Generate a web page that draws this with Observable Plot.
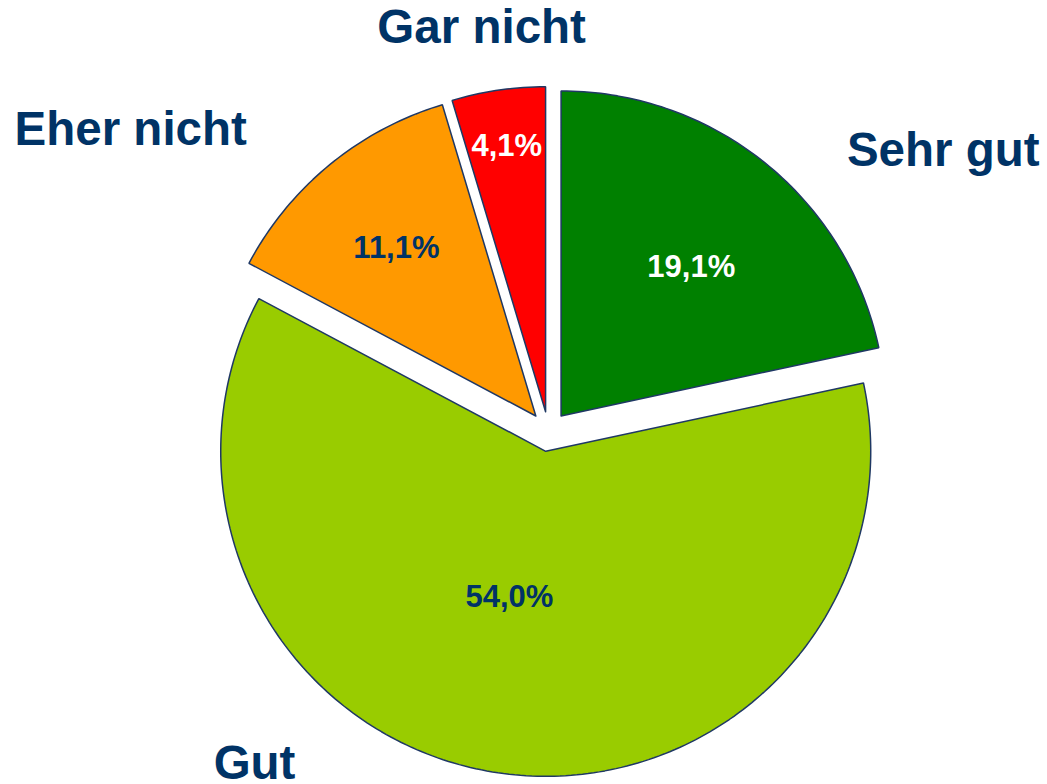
<!DOCTYPE html>
<html><head><meta charset="utf-8">
<script src="https://cdn.jsdelivr.net/npm/d3@7"></script>
<script src="https://cdn.jsdelivr.net/npm/@observablehq/plot@0.6"></script>
<style>body{margin:0;background:#fff}</style>
</head><body><div id="chart"></div>
<script>
// ---- data ----
const categories = ["Sehr gut", "Gut", "Eher nicht", "Gar nicht"];
const values = [19.1, 54.0, 11.1, 4.1];
const valueLabels = ["19,1%", "54,0%", "11,1%", "4,1%"];
const sliceColors = ["#008000", "#99CC00", "#FF9900", "#FF0000"];

// ---- layout (chart units: pie radius = 1; polar = [degrees clockwise from top, radius]) ----
const W = 1047, H = 784, R = 325;
const explode = 20 / R;
const innerLabelPolar = [[40.9, 0.671], [193.3, 0.522], [320.4, 0.734], [351.7, 0.889]];
const outerLabelPolar = [[54.6, 1.49], [221.5, 1.365], [305.8, 1.585], [350.6, 1.26]];
const navy = "#003366";

const total = d3.sum(values);
const rad = Math.PI / 180;
const points = [];
const slices = [];
let acc = 0;
categories.forEach((cat, i) => {
  const a0 = acc / total * 2 * Math.PI;
  acc += values[i];
  const a1 = acc / total * 2 * Math.PI;
  const mid = (a0 + a1) / 2;
  const vx = explode * Math.sin(mid), vy = explode * Math.cos(mid);
  points.push({cat, x: vx, y: vy});
  const n = Math.max(2, Math.ceil((a1 - a0) / rad));
  for (let k = 0; k <= n; k++) {
    const t = a0 + (a1 - a0) * k / n;
    points.push({cat, x: vx + Math.sin(t), y: vy + Math.cos(t)});
  }
  points.push({cat, x: vx, y: vy});
  const [ia, ir] = innerLabelPolar[i];
  const [oa, or] = outerLabelPolar[i];
  slices.push({
    cat, label: valueLabels[i],
    ix: ir * Math.sin(ia * rad), iy: ir * Math.cos(ia * rad),
    ox: or * Math.sin(oa * rad), oy: or * Math.cos(oa * rad),
    white: i === 0 || i === 3
  });
});

const chart = Plot.plot({
  width: W, height: H,
  margin: 0,
  x: {domain: [-548 / R, 499 / R], axis: null},
  y: {domain: [-353 / R, 431 / R], axis: null},
  color: {domain: categories, range: sliceColors},
  style: {fontFamily: "'Liberation Sans', Arial, sans-serif", background: "white"},
  marks: [
    Plot.line(points, {x: "x", y: "y", z: "cat", fill: "cat", stroke: "#1F3864", strokeWidth: 1.5, strokeLinejoin: "miter", curve: "linear"}),
    Plot.text(slices.filter(d => d.white), {x: "ix", y: "iy", text: "label", fill: "white", fontSize: 31, fontWeight: "bold"}),
    Plot.text(slices.filter(d => !d.white), {x: "ix", y: "iy", text: "label", fill: navy, fontSize: 31, fontWeight: "bold"}),
    Plot.text(slices, {x: "ox", y: "oy", text: "cat", fill: navy, fontSize: 47.5, fontWeight: "bold"})
  ]
});
document.getElementById("chart").appendChild(chart);
</script>
</body></html>
